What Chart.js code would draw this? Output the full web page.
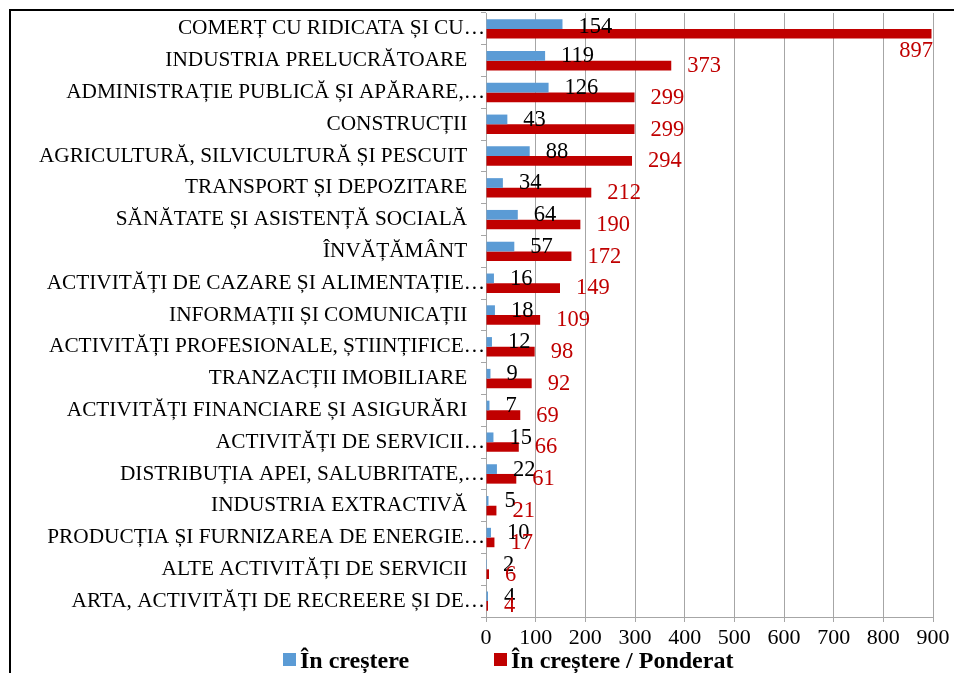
<!DOCTYPE html>
<html>
<head>
<meta charset="utf-8">
<script src="https://cdn.jsdelivr.net/npm/chart.js@4.4.0/dist/chart.umd.min.js"></script>
<style>
    html, body { margin: 0; padding: 0; background: #fff; overflow: hidden; }
    #wrap { position: relative; width: 954px; height: 673px; }
    #frame { position: absolute; left: 9px; top: 9px; width: 1000px; height: 1000px; border: 2px solid #000; box-sizing: border-box; pointer-events: none; }
    .legend-box { position: absolute; width: 13px; height: 13px; top: 653px; }
    .legend-text { position: absolute; top: 648px; font: bold 24px 'Liberation Serif', 'Times New Roman', serif; line-height: 24px; color: #000; white-space: nowrap; }
</style>
</head>
<body>
<div id="wrap">
    <canvas id="chart" width="954" height="673"></canvas>
    <div id="frame"></div>
    <span class="legend-box" style="left:283px; background:#5B9BD5;"></span>
    <span class="legend-text" style="left:300px;">În creștere</span>
    <span class="legend-box" style="left:494px; background:#C00000;"></span>
    <span class="legend-text" style="left:511px;">În creștere / Ponderat</span>
</div>
<script>
// Data
const categories = [
    'COMERȚ CU RIDICATA ȘI CU…',
    'INDUSTRIA PRELUCRĂTOARE',
    'ADMINISTRAȚIE PUBLICĂ ȘI APĂRARE,…',
    'CONSTRUCȚII',
    'AGRICULTURĂ, SILVICULTURĂ ȘI PESCUIT',
    'TRANSPORT ȘI DEPOZITARE',
    'SĂNĂTATE ȘI ASISTENȚĂ SOCIALĂ',
    'ÎNVĂȚĂMÂNT',
    'ACTIVITĂȚI DE CAZARE ȘI ALIMENTAȚIE…',
    'INFORMAȚII ȘI COMUNICAȚII',
    'ACTIVITĂȚI PROFESIONALE, ȘTIINȚIFICE…',
    'TRANZACȚII IMOBILIARE',
    'ACTIVITĂȚI FINANCIARE ȘI ASIGURĂRI',
    'ACTIVITĂȚI DE SERVICII…',
    'DISTRIBUȚIA APEI, SALUBRITATE,…',
    'INDUSTRIA EXTRACTIVĂ',
    'PRODUCȚIA ȘI FURNIZAREA DE ENERGIE…',
    'ALTE ACTIVITĂȚI DE SERVICII',
    'ARTA, ACTIVITĂȚI DE RECREERE ȘI DE…'
];
const growthValues = [154, 119, 126, 43, 88, 34, 64, 57, 16, 18, 12, 9, 7, 15, 22, 5, 10, 2, 4];
const weightedValues = [897, 373, 299, 299, 294, 212, 190, 172, 149, 109, 98, 92, 69, 66, 61, 21, 17, 6, 4];
const xTicks = [0, 100, 200, 300, 400, 500, 600, 700, 800, 900];

const seriesNames = ['În creștere', 'În creștere / Ponderat'];
const FONT = "'Liberation Serif', 'Times New Roman', serif";
const GRID = '#A6A6A6';

Chart.defaults.font.family = FONT;
Chart.defaults.color = '#000';

// Draws the value next to each bar end, kept inside the plot area like Excel does
const valueLabels = {
    id: 'valueLabels',
    afterDatasetsDraw(chart) {
        const { ctx, chartArea } = chart;
        const colors = ['#000000', '#C00000'];
        ctx.save();
        ctx.font = `22.5px ${FONT}`;
        ctx.textAlign = 'left';
        ctx.textBaseline = 'middle';
        chart.data.datasets.forEach((ds, di) => {
            const meta = chart.getDatasetMeta(di);
            ctx.fillStyle = colors[di];
            meta.data.forEach((bar, i) => {
                const text = String(ds.data[i]);
                const w = ctx.measureText(text).width;
                let x = bar.x + 16;
                let y = bar.y + 0.5;
                if (x + w > chartArea.right) {
                    // no room on the right: tuck it under the bar
                    x = chartArea.right - w;
                    y = bar.y + 17;
                }
                y = Math.max(y, chartArea.top + 14);
                y = Math.min(y, chartArea.bottom - 10);
                ctx.fillText(text, x, y);
            });
        });
        ctx.restore();
    }
};

new Chart(document.getElementById('chart'), {
    type: 'bar',
    data: {
        labels: categories,
        datasets: [
            {
                label: seriesNames[0],
                data: growthValues,
                backgroundColor: '#5B9BD5',
                categoryPercentage: 0.61,
                barPercentage: 1
            },
            {
                label: seriesNames[1],
                data: weightedValues,
                backgroundColor: '#C00000',
                categoryPercentage: 0.61,
                barPercentage: 1
            }
        ]
    },
    options: {
        indexAxis: 'y',
        responsive: false,
        animation: false,
        devicePixelRatio: 1,
        layout: { padding: { left: 0, top: 13, right: 21, bottom: 0 } },
        plugins: {
            legend: { display: false },
            tooltip: { enabled: false }
        },
        scales: {
            x: {
                min: 0,
                max: 900,
                afterBuildTicks: scale => { scale.ticks = xTicks.map(v => ({ value: v })); },
                afterFit: scale => { scale.height = 56; },
                grid: { color: GRID, tickLength: 5 },
                border: { color: GRID },
                ticks: { font: { size: 22 }, padding: 3, color: '#000', maxRotation: 0 }
            },
            y: {
                afterFit: scale => { scale.width = 486; },
                grid: { drawOnChartArea: false, tickLength: 5, color: GRID, offset: true },
                border: { color: GRID },
                ticks: {
                    autoSkip: false,
                    padding: -4,
                    font: { size: 21.3 },
                    color: '#000',
                    // full labels sit a bit further from the axis than the cut ones
                    callback: (value, i) => categories[i].endsWith('…') ? categories[i] : categories[i] + '\u2002\u2004'
                }
            }
        }
    },
    plugins: [valueLabels]
});
</script>
</body>
</html>
